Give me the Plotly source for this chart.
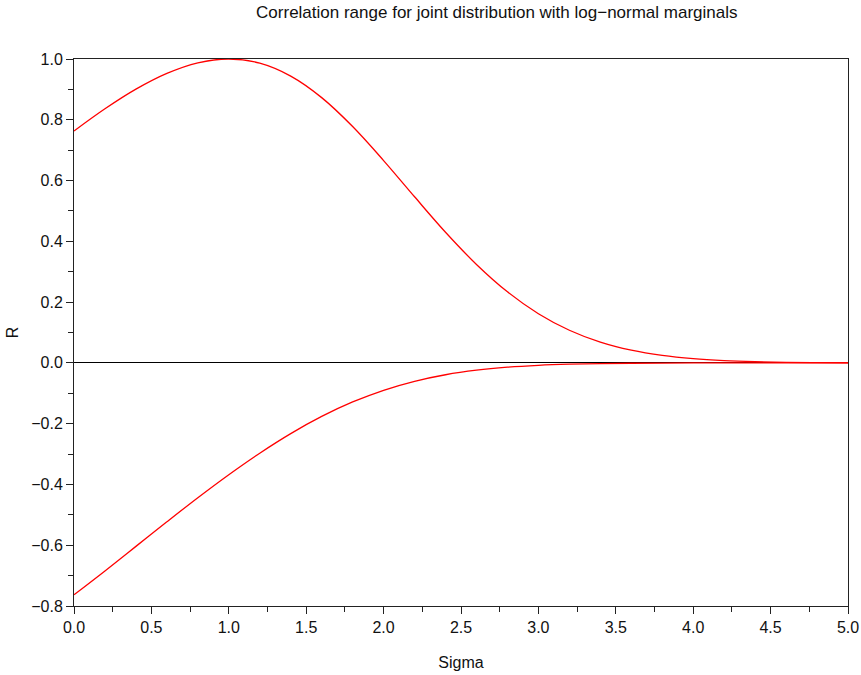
import plotly.graph_objects as go

sigma = [0.0, 0.2, 0.4, 0.6, 0.8, 1.0, 1.2, 1.4, 1.6, 1.8, 2.0, 2.2, 2.4, 2.6,
         2.8, 3.0, 3.2, 3.4, 3.6, 3.8, 4.0, 4.2, 4.4, 4.6, 4.8, 5.0]
r_max = [0.763, 0.8361, 0.9008, 0.9527, 0.9875, 1.0, 0.9863, 0.9437, 0.8729,
         0.7777, 0.6658, 0.5466, 0.4299, 0.3239, 0.2338, 0.1618, 0.1073,
         0.06825, 0.04165, 0.0244, 0.01372, 0.0074, 0.00384, 0.00191,
         0.000913, 0.000419]
r_min = [-0.763, -0.6845, -0.6038, -0.5229, -0.4437, -0.3679, -0.2971,
         -0.2327, -0.1762, -0.1286, -0.0901, -0.0606, -0.039, -0.02406,
         -0.01422, -0.00805, -0.00437, -0.00228, -0.00114, -0.000546,
         -0.000251, -0.00011, -0.0000468, -0.0000192, -0.000008, -0.000003]

font = "Liberation Sans, Arial, sans-serif"
fig = go.Figure()
for ys in (r_max, r_min):
    fig.add_trace(go.Scatter(x=sigma, y=ys, mode="lines",
                             line=dict(color="#ff0000", width=1.3, shape="spline"),
                             showlegend=False, hoverinfo="skip"))

axcommon = dict(showgrid=False, showline=True, linecolor="#222", linewidth=1,
                mirror=True, ticks="outside", ticklen=7, tickcolor="#222",
                automargin=False,
                tickfont=dict(size=16, color="#111", family=font),
                title_font=dict(size=16, color="#111", family=font))
fig.update_xaxes(range=[0, 5], dtick=0.5, tickformat=".1f",
                 minor=dict(dtick=0.25, ticks="outside", ticklen=5, tickcolor="#222"),
                 zeroline=False, title_text="Sigma", title_standoff=21, **axcommon)
fig.update_yaxes(range=[-0.8, 1.0], dtick=0.2, tickformat=".1f",
                 minor=dict(dtick=0.1, ticks="outside", ticklen=5, tickcolor="#222"),
                 zeroline=True, zerolinecolor="#000", zerolinewidth=1,
                 title_text="R", title_standoff=8, **axcommon)
fig.update_layout(
    width=861, height=675,
    margin=dict(l=74, r=13, t=59, b=69),
    plot_bgcolor="white", paper_bgcolor="white",
    title=dict(text="Correlation range for joint distribution with log\u2212normal marginals",
               x=0.577, xanchor="center", y=0.982, yanchor="middle",
               font=dict(size=17, color="#111", family=font)),
)
fig.write_html("out.html", config={"displayModeBar": False},
               post_script="document.body.style.margin='0';")
